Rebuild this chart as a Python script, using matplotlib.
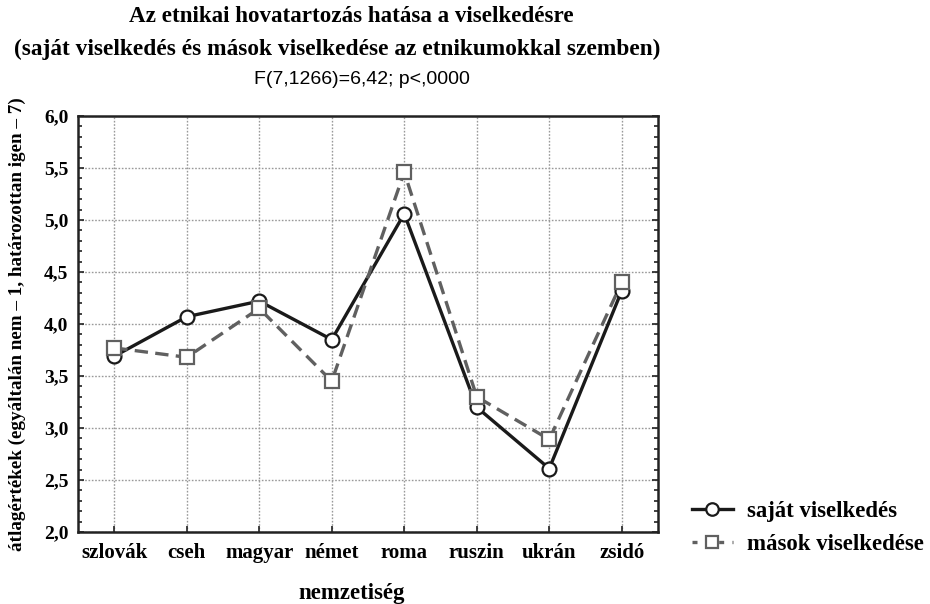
import matplotlib
matplotlib.use("Agg")
import matplotlib.pyplot as plt
from matplotlib.ticker import MultipleLocator, FixedLocator
from matplotlib.lines import Line2D

categories = ["szlovák", "cseh", "magyar", "német", "roma", "ruszin", "ukrán", "zsidó"]
sajat = [3.69, 4.07, 4.22, 3.85, 5.06, 3.20, 2.61, 4.32]
masok = [3.77, 3.68, 4.15, 3.45, 5.46, 3.30, 2.89, 4.40]
yticks = [2.0, 2.5, 3.0, 3.5, 4.0, 4.5, 5.0, 5.5, 6.0]
ytick_labels = ["2,0", "2,5", "3,0", "3,5", "4,0", "4,5", "5,0", "5,5", "6,0"]

serif = ["Liberation Serif", "DejaVu Serif"]
sans = ["Liberation Sans", "DejaVu Sans"]

fig = plt.figure(figsize=(9.30, 6.04), dpi=100)
ax = fig.add_axes([78/930, 1-532/604, (658-78)/930, (532-116)/604])

x = list(range(len(categories)))
l1, = ax.plot(x, sajat, color="#1a1a1a", lw=2.4, marker="o", ms=10,
              mfc="white", mec="#1a1a1a", mew=1.6, zorder=3)
l2, = ax.plot(x, masok, color="#606060", lw=2.4, ls=(0, (4, 2.2)), marker="s", ms=10,
              mfc="white", mec="#606060", mew=1.6, zorder=4)

ax.set_xlim(-0.5, len(categories) - 0.5)
ax.set_ylim(2.0, 6.0)
ax.set_xticks(x)
ax.set_xticklabels(categories, fontfamily=serif, fontweight="bold", fontsize=15)
for t in ax.get_xticklabels():
    t.set_va("baseline")
ax.yaxis.set_major_locator(FixedLocator(yticks))
ax.set_yticklabels(ytick_labels, fontfamily=serif, fontweight="bold", fontsize=14)
ax.yaxis.set_minor_locator(MultipleLocator(0.1))
ax.tick_params(axis="both", which="major", direction="in", length=4, width=1.2, color="#222")
ax.tick_params(axis="y", which="minor", direction="in", length=3, width=1.2, color="#222",
               right=True)
ax.tick_params(axis="y", which="major", right=True, pad=7)
ax.tick_params(axis="x", which="major", pad=19)
ax.grid(True, which="major", color="#999999", ls=(0, (1.2, 1.2)), lw=1.0)
for s in ax.spines.values():
    s.set_linewidth(1.8)
    s.set_color("#222")

ax.set_xlabel("nemzetiség", fontfamily=serif, fontweight="bold", fontsize=16.5)
ax.xaxis.set_label_coords((352-78)/(658-78), -(593-532)/(532-116))
ax.xaxis.label.set_va("center")
ax.set_ylabel("átlagértékek (egyáltalán nem – 1, határozottan igen – 7)",
              fontfamily=serif, fontweight="bold", fontsize=13.8)
ax.yaxis.set_label_coords(-(78-17)/(658-78), 0.5)
ax.yaxis.label.set_va("center")

fig.text(351/930, 1-17/604, "Az etnikai hovatartozás hatása a viselkedésre",
         ha="center", va="center", fontfamily=serif, fontweight="bold", fontsize=16.6)
fig.text(337/930, 1-49/604, "(saját viselkedés és mások viselkedése az etnikumokkal szemben)",
         ha="center", va="center", fontfamily=serif, fontweight="bold", fontsize=16.8)
fig.text(362/930, 1-80/604, "F(7,1266)=6,42; p<,0000",
         ha="center", va="center", fontfamily=sans, fontsize=14)

h1 = Line2D([], [], color="#1a1a1a", lw=2.4, marker="o", ms=9, mfc="white",
            mec="#1a1a1a", mew=1.6)
h2 = Line2D([], [], color="#606060", lw=2.4, ls=(0, (1.5, 2.5)), marker="s", ms=9,
            mfc="white", mec="#606060", mew=1.6)
leg = fig.legend([h1, h2], ["saját viselkedés", "mások viselkedése"],
                 loc="center left", bbox_to_anchor=(671/930, 1-528/604),
                 frameon=False, handlelength=1.8, handletextpad=0.65, labelspacing=0.5,
                 prop={"family": serif, "weight": "bold", "size": 16.4})

fig.savefig("out.png", dpi=100, facecolor="white")
